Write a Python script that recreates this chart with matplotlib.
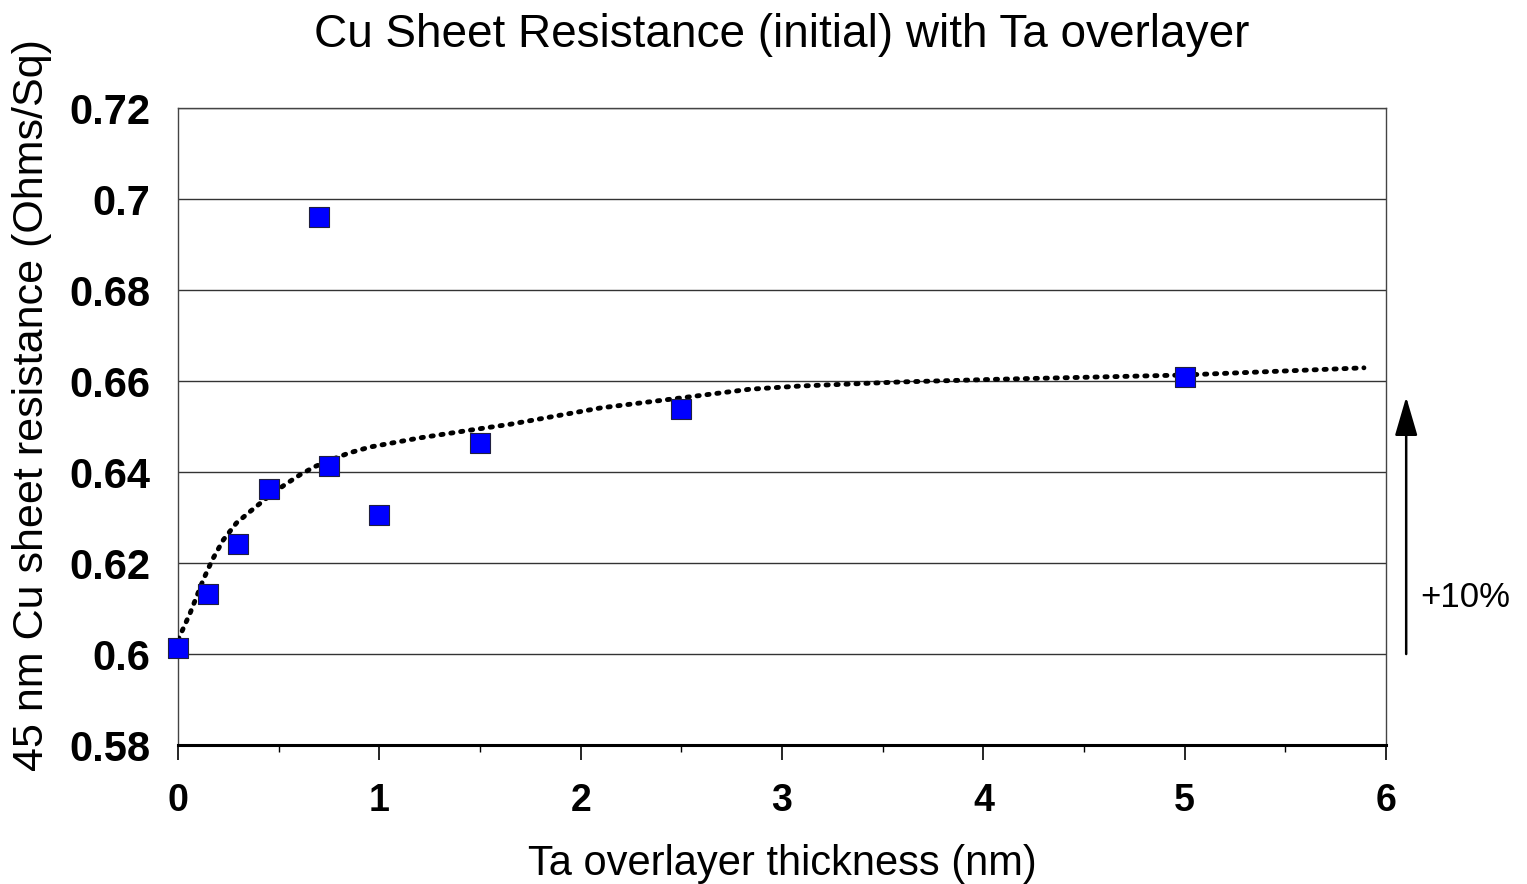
import matplotlib
matplotlib.use("Agg")
import matplotlib.pyplot as plt
from matplotlib.ticker import MultipleLocator

plt.rcParams['font.family'] = ['Liberation Sans', 'DejaVu Sans']

# measured Cu sheet resistance vs Ta overlayer thickness
ta_thickness = [0.0, 0.15, 0.3, 0.45, 0.7, 0.75, 1.0, 1.5, 2.5, 5.0]
sheet_res = [0.6013, 0.6132, 0.6242, 0.6363, 0.6960, 0.6413, 0.6305, 0.6464, 0.6538, 0.6609]

# trend line points
trend_x = [0.0, 0.06, 0.125, 0.17, 0.225, 0.29, 0.36, 0.457, 0.53, 0.606, 0.68, 0.755, 0.85, 0.954,
           1.2, 1.45, 1.65, 2.1, 2.5, 2.84, 3.09, 3.59, 4.08, 4.98, 5.89]
trend_y = [0.6031, 0.609, 0.6163, 0.6207, 0.6251, 0.6288, 0.6314, 0.6349, 0.6372, 0.6394, 0.6412,
           0.6426, 0.6442, 0.6455, 0.6475, 0.6492, 0.6505, 0.6541, 0.6563, 0.6582, 0.6589, 0.6598,
           0.6604, 0.6613, 0.6629]

fig = plt.figure(figsize=(15.27, 8.84), dpi=100)
ax = fig.add_axes([0.1166, 0.1572, 0.7911, 0.7206])

ax.plot(trend_x, trend_y, color='black', lw=3.5, linestyle=(0, (0.45, 1.6)),
        dash_capstyle='round', zorder=3)
ax.scatter(ta_thickness, sheet_res, marker='s', s=210, color='#0000ff',
           edgecolors='#202040', linewidths=0.8, zorder=4, clip_on=False)

ax.set_xlim(0, 6)
ax.set_ylim(0.58, 0.72)
ax.xaxis.set_major_locator(MultipleLocator(1))
ax.xaxis.set_minor_locator(MultipleLocator(0.5))
ax.yaxis.grid(True, color='#333333', lw=1.0)
ax.set_axisbelow(True)

ax.set_xticklabels([f'{v:g}' for v in ax.get_xticks()])
ax.set_yticks([0.58, 0.6, 0.62, 0.64, 0.66, 0.68, 0.7, 0.72])
ax.set_yticklabels(['0.58', '0.6', '0.62', '0.64', '0.66', '0.68', '0.7', '0.72'])

ax.tick_params(axis='x', which='major', length=11, width=1.2, pad=16,
               labelsize=27)
ax.tick_params(axis='x', which='minor', length=5, width=1.0)
ax.tick_params(axis='y', length=0, pad=20, labelsize=30)
for lbl in ax.get_xticklabels() + ax.get_yticklabels():
    lbl.set_fontweight('bold')

for side in ['top', 'right', 'left']:
    ax.spines[side].set_color('#444444')
    ax.spines[side].set_linewidth(1.0)
ax.spines['bottom'].set_linewidth(2.2)

ax.set_title('Cu Sheet Resistance (initial) with Ta overlayer', fontsize=33, pad=44)
ax.set_xlabel('Ta overlayer thickness (nm)', fontsize=30, labelpad=18)
ax.set_ylabel('45 nm Cu sheet resistance (Ohms/Sq)', fontsize=31)
ax.yaxis.set_label_coords(-0.104, 0.534)

# +10% marker to the right of the plot
ax.annotate('', xy=(6.1, 0.6565), xytext=(6.1, 0.6), annotation_clip=False,
            arrowprops=dict(arrowstyle='-|>,head_length=2.4,head_width=0.7',
                            color='black', lw=1.8, shrinkA=0, shrinkB=0))
ax.text(6.17, 0.6125, '+10%', fontsize=25, va='center', ha='left')

fig.savefig('out.png', dpi=100)
